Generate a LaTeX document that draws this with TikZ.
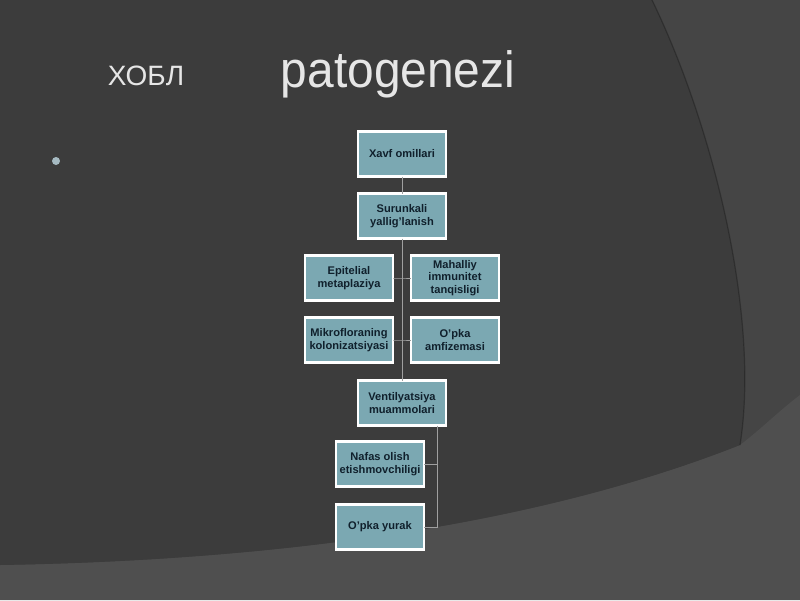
\documentclass[tikz,border=0pt]{standalone}
\usepackage{fontspec}
\setmainfont{Liberation Sans}
\definecolor{bgdark}{HTML}{3C3C3C}
\definecolor{bgright}{HTML}{454545}
\definecolor{bgbottom}{HTML}{4F4F4F}
\definecolor{boxfill}{HTML}{7BA8B2}
\definecolor{boxtext}{HTML}{10202C}
\definecolor{linecol}{HTML}{A0A0A0}
\definecolor{titlecol}{HTML}{E6E6E6}
\definecolor{dotcol}{HTML}{A6BAC2}
\tikzset{
  boxnode/.style={draw=white, line width=2.2pt, fill=boxfill, minimum width=88pt, minimum height=45pt,
    inner sep=1pt, outer sep=0pt, align=center, text=boxtext, font=\fontsize{11.1}{12.6}\selectfont\bfseries, anchor=center},
  conn/.style={draw=linecol, line width=1pt}
}
\begin{document}
\begin{tikzpicture}[x=1pt,y=-1pt]
\useasboundingbox (0,0) rectangle (800,600);
% background
\fill[bgright] (0,0) rectangle (800,600);
\fill[bgbottom] (0,565) .. controls (300,560) and (550,520) .. (740,445) .. controls (760,430) and (780,410) .. (800,395) -- (800,600) -- (0,600) -- cycle;
\fill[bgdark] (0,0) -- (652,0) .. controls (715,130) and (760,320) .. (740,445) .. controls (550,520) and (300,560) .. (0,565) -- cycle;
\draw[black, opacity=0.25, line width=1.2pt] (652,0) .. controls (715,130) and (760,320) .. (740,445);
% titles
\node[text=titlecol, font=\fontsize{28}{30}\selectfont, anchor=base] (t1) at (146,85) {ХОБЛ};
\node[text=titlecol, font=\fontsize{51}{54}\selectfont, anchor=base, xscale=0.94] (t2) at (398,87) {patogenezi};
\fill[dotcol] (56,161) circle (4);
% boxes (centres)
\node[boxnode] (a) at (402,154) {Xavf omillari};
\node[boxnode] (b) at (402,216) {Surunkali\\yallig'lanish};
\node[boxnode] (c) at (349,278) {Epitelial\\metaplaziya};
\node[boxnode] (d) at (455,278) {Mahalliy\\immunitet\\tanqisligi};
\node[boxnode] (e) at (349,340) {Mikrofloraning\\kolonizatsiyasi};
\node[boxnode] (f) at (455,340) {O'pka\\amfizemasi};
\node[boxnode] (g) at (402,403) {Ventilyatsiya\\muammolari};
\node[boxnode] (h) at (380,464) {Nafas olish\\etishmovchiligi};
\node[boxnode] (i) at (380,527) {O'pka yurak};
% connectors
\coordinate (k0) at (437,425.5);
\draw[conn] (a.south) -- (b.north);
\draw[conn] (b.south) -- (g.north);
\draw[conn] (c.east) -- (c.east -| b.south) -- (d.west);
\draw[conn] (e.east) -- (e.east -| b.south) -- (f.west);
\draw[conn] (k0) -- (k0 |- i.east) -- (i.east);
\draw[conn] (h.east) -- (h.east -| k0);
\end{tikzpicture}
\end{document}
